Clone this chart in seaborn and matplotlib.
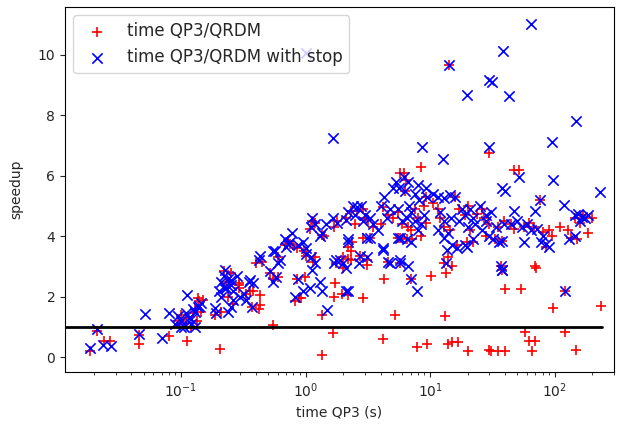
import matplotlib
matplotlib.use("Agg")
import matplotlib.pyplot as plt
import seaborn as sns
import numpy as np

# ---- data: time QP3 (s) and speedups ----
red_time = [0.0186, 0.021, 0.024, 0.027, 0.046, 0.046, 0.08, 0.112,
            0.095, 0.1, 0.105, 0.11, 0.12, 0.13, 0.14, 0.15, 0.135, 0.125, 0.137, 0.145,
            0.188, 0.206, 0.25, 0.29, 0.29, 0.26, 0.33, 0.36, 0.37, 0.43, 0.43, 0.40, 0.45,
            0.23, 0.24, 0.21, 0.22, 0.38, 0.42, 0.29,
            0.55, 0.6, 0.68, 0.72, 0.85, 0.98, 0.55, 0.99, 0.82, 0.92, 0.52, 0.60, 0.75,
            0.86, 0.80, 0.88,
            1.19, 1.36, 1.66, 1.36, 1.13, 1.35, 1.7, 2.1, 1.75, 2.0, 1.73, 1.7, 1.95, 2.2,
            1.09, 1.2, 1.4, 1.8, 1.0, 1.15, 2.2, 2.3, 2.36, 2.2, 2.0,
            2.3, 2.6, 3.0, 3.2, 2.9, 4.2, 4.6, 5.0, 5.74, 2.74, 3.1, 2.9, 3.3, 4.6, 5.5,
            2.9, 4.27, 3.1, 2.3, 5.2, 4.2, 6.2, 5.7, 5.7, 6.5, 5.5, 6.0, 6.6, 3.5, 4.0, 2.5,
            7.0, 10.2, 7.8, 9.4, 8.4, 9.3, 9.3, 6.3, 7.5, 8.0, 7.0, 8.5, 6.4, 9.0, 7.2,
            13.2, 13.9, 15, 16.8, 20, 30, 14.2, 30, 13, 13.5, 16.5, 19.7, 15, 14, 12, 13,
            14.5, 11.5, 17, 19, 21, 22, 24, 27, 30, 28, 33, 35, 37, 38, 20, 16, 10.5, 26,
            47, 52, 76, 40, 54, 71, 121, 97, 236, 58, 121, 62, 70, 31, 35, 40, 66, 148,
            39, 38, 47, 57, 68, 80, 95, 85, 128, 135, 150, 145, 160, 185, 70, 45, 62, 90,
            110, 200, 170]
red_speedup = [0.21, 0.88, 0.55, 0.55, 0.73, 0.43, 0.70, 0.54,
               1.2, 1.4, 1.1, 1.3, 1.0, 1.6, 1.85, 1.9, 1.2, 1.45, 1.95, 1.5,
               1.39, 0.26, 2.77, 2.3, 2.45, 1.75, 2.1, 2.2, 1.65, 2.05, 1.72, 3.1, 3.15,
               2.5, 2.0, 1.5, 2.85, 2.2, 1.6, 2.38,
               2.6, 2.65, 3.7, 3.85, 3.6, 3.5, 1.06, 2.65, 1.85, 1.95, 2.8, 3.3, 3.75,
               2.6, 3.7, 1.95,
               3.3, 1.39, 0.79, 0.06, 4.5, 4.05, 4.3, 4.6, 3.1, 2.95, 2.45, 2.0, 2.1, 3.65,
               4.25, 4.45, 4.0, 4.5, 3.35, 3.15, 3.25, 3.5, 3.8, 2.05, 3.3,
               4.85, 4.85, 4.6, 4.55, 4.9, 4.95, 4.7, 4.6, 6.1, 3.35, 3.05, 3.95, 3.95, 3.15, 3.95,
               1.95, 2.6, 3.2, 3.2, 1.39, 0.6, 6.1, 3.95, 3.1, 3.9, 4.8, 4.4, 4.3, 4.3, 4.4, 4.4,
               2.6, 2.7, 0.35, 0.45, 6.3, 5.3, 4.45, 5.5, 4.9, 4.6, 4.2, 4.0, 5.85, 5.0, 3.9,
               1.36, 0.45, 0.5, 0.5, 0.22, 0.23, 9.67, 6.75, 3.1, 2.8, 3.7, 3.8, 3.0, 3.3, 4.6, 4.3,
               4.2, 4.9, 4.9, 4.7, 4.2, 3.8, 4.75, 4.6, 4.4, 4.0, 3.9, 4.3, 3.0, 2.9, 5.0, 5.3, 5.1, 4.9,
               6.2, 6.2, 5.2, 2.25, 2.25, 2.95, 2.2, 1.62, 1.7, 0.83, 0.83, 0.53, 0.53, 0.2, 0.2, 0.2, 0.2, 0.23,
               4.5, 3.85, 4.25, 4.3, 4.3, 4.15, 4.0, 3.65, 4.2, 3.95, 3.9, 4.6, 4.45, 4.1, 3.0, 4.4, 4.45, 4.2,
               4.3, 4.6, 4.7]

blue_time = [0.0186, 0.021, 0.0236, 0.0274, 0.046, 0.070, 0.051, 0.08, 0.112,
             0.09, 0.095, 0.1, 0.105, 0.11, 0.115, 0.12, 0.125, 0.13, 0.14, 0.145, 0.13, 0.1, 0.12, 0.137,
             0.188, 0.2, 0.21, 0.22, 0.225, 0.23, 0.24, 0.25, 0.26, 0.22, 0.26, 0.25, 0.33, 0.36,
             0.37, 0.42, 0.43, 0.3, 0.32, 0.35, 0.38, 0.19, 0.24, 0.21, 0.28, 0.25,
             0.55, 0.58, 0.57, 0.62, 0.6, 0.68, 0.72, 0.55, 0.87, 1.0, 0.87, 0.82, 0.78, 0.95,
             0.52, 0.7, 0.75, 0.95,
             1.13, 1.09, 1.3, 1.35, 1.49, 1.13, 1.2, 1.35, 1.66, 2.1, 1.7, 1.9, 2.1, 2.1, 2.2,
             1.66, 1.0, 1.1, 1.2, 1.0, 1.75, 2.0, 1.3, 1.8, 2.2, 1.1, 1.45,
             2.2, 2.4, 2.6, 2.8, 3.0, 2.5, 3.3, 2.9, 4.0, 4.3, 4.8, 4.5, 5.0, 5.3, 2.2, 2.75,
             3.1, 3.3, 4.2, 4.6, 5.5, 4.8, 5.7, 4.2, 3.1, 2.7, 5.7, 5.7, 6.6, 3.5, 6.2, 6.3,
             5.6, 3.8, 6.0, 5.5, 6.5,
             7.0, 7.9, 8.6, 6.6, 8.0, 9.3, 7.5, 8.2, 9.5, 6.5, 7.0, 7.5, 8.0, 8.5, 9.0, 7.0, 6.8,
             12.8, 14.2, 19.8, 30, 30, 31.4, 38.6, 43, 10.5, 11.5, 13, 14.5, 16, 12, 13, 11.5,
             14, 13, 14.6, 13.8, 16.5, 19.7, 13.5, 15, 18, 19, 21, 22, 25, 28, 31, 20, 22, 19,
             26, 28, 30, 32, 34, 36, 38, 38, 37, 39, 17, 23,
             65, 149, 95, 52, 97, 40, 230, 76, 120, 47, 70, 145, 155, 165, 175, 185, 160, 45,
             50, 55, 60, 65, 72, 80, 85, 90, 78, 57, 38, 130, 145, 121, 38]
blue_speedup = [0.31, 0.93, 0.40, 0.37, 0.76, 0.65, 1.42, 1.45, 2.05,
                1.1, 1.35, 1.2, 1.0, 1.45, 1.3, 1.1, 1.6, 1.5, 1.7, 1.8, 1.0, 1.0, 1.25, 1.65,
                1.62, 2.2, 2.5, 2.7, 2.88, 2.3, 2.6, 2.4, 2.2, 2.3, 1.9, 1.65, 1.9, 2.55,
                1.65, 3.2, 3.35, 2.0, 2.1, 2.5, 2.45, 1.45, 1.5, 2.0, 2.7, 2.55,
                2.5, 2.65, 3.5, 3.2, 3.1, 3.9, 3.75, 3.5, 3.7, 3.6, 2.6, 2.0, 4.1, 3.8,
                2.85, 3.65, 3.8, 2.2,
                2.9, 2.3, 2.5, 2.2, 1.55, 4.6, 4.4, 4.1, 4.6, 4.55, 3.1, 3.2, 2.95, 2.2, 3.9,
                7.25, 10.05, 3.3, 3.1, 3.4, 3.2, 3.1, 4.0, 4.45, 3.8, 4.3, 4.4,
                4.8, 5.0, 4.95, 5.0, 4.7, 4.7, 4.6, 4.5, 5.0, 5.3, 4.9, 4.6, 5.6, 5.8, 2.2, 3.35,
                3.3, 3.95, 3.6, 3.15, 3.95, 3.1, 3.2, 3.55, 3.95, 3.1, 3.95, 3.1, 3.0, 4.4, 5.95, 5.5,
                5.6, 4.2, 4.5, 4.9, 4.6,
                2.6, 2.2, 6.95, 5.8, 5.7, 5.6, 5.4, 5.2, 5.3, 3.9, 4.8, 4.5, 4.2, 4.4, 4.7, 3.8, 5.0,
                6.55, 9.67, 8.68, 9.17, 6.95, 9.1, 10.13, 8.64, 5.4, 5.3, 5.25, 5.35, 5.3, 4.8, 4.5, 4.2,
                4.1, 3.95, 4.6, 3.55, 3.6, 3.65, 3.1, 3.7, 4.9, 4.7, 4.9, 4.6, 5.0, 4.7, 4.8, 4.3, 3.9, 3.7,
                4.2, 4.5, 4.0, 3.9, 4.3, 3.8, 5.6, 2.9, 3.0, 4.4, 4.5, 4.4,
                11.03, 7.8, 7.1, 5.95, 5.85, 5.5, 5.45, 5.2, 5.03, 4.85, 4.85, 4.7, 4.75, 4.65, 4.6, 4.7, 4.5, 4.4,
                4.5, 4.3, 4.4, 4.2, 4.25, 4.0, 3.75, 3.65, 3.8, 3.8, 3.85, 3.9, 4.0, 2.2, 2.9]

ref_line_x = [0.0117, 240]
ref_line_y = [1, 1]
x_limits = (0.0117, 300)

sns.set_style("ticks")
plt.rcParams['font.family'] = ['DejaVu Sans']

fig = plt.figure(figsize=(6.18, 4.32), dpi=100)
ax = fig.add_axes([65/618, 1-372/432, (614-65)/618, (372-7)/432])

sns.scatterplot(x=red_time, y=red_speedup, marker='+', color='red', s=55,
                linewidth=1.2, label='time QP3/QRDM', ax=ax, zorder=3)
sns.scatterplot(x=blue_time, y=blue_speedup, marker='x', color='blue', s=55,
                linewidth=1.2, label='time QP3/QRDM with stop', ax=ax, zorder=3)
ax.plot(ref_line_x, ref_line_y, color='black', linewidth=2, zorder=4, scalex=False)

ax.set_xscale('log')
ax.set_xlim(*x_limits)
ax.set_xlabel('time QP3 (s)', fontsize=10)
ax.set_ylabel('speedup', fontsize=10, labelpad=10)
ax.tick_params(labelsize=10)
for s in ax.spines.values():
    s.set_visible(True)
    s.set_color('black')
ax.legend(loc='upper left', fontsize=12, frameon=True)

fig.savefig('out.png', dpi=100)
